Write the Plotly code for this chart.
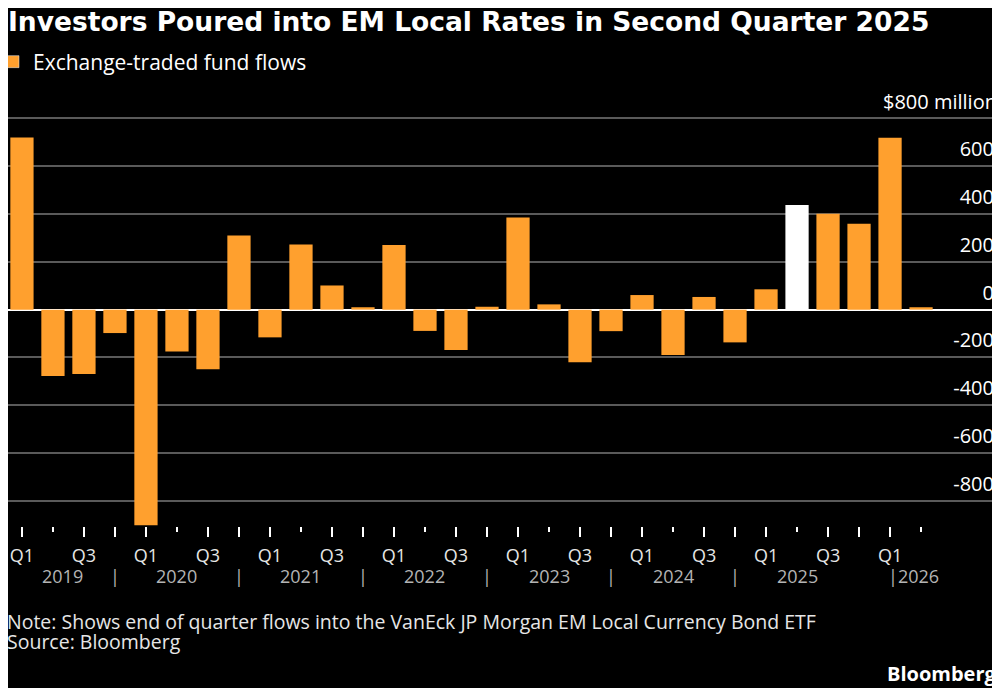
import plotly.graph_objects as go

# quarterly ETF flows, $ million (2019 Q1 .. 2026 Q2)
years = [2019, 2020, 2021, 2022, 2023, 2024, 2025, 2026]
quarters = ["Q1", "Q2", "Q3", "Q4"]
flows = [
    720, -278, -269, -98,      # 2019
    -902, -175, -249, 310,     # 2020
    -116, 272, 101, 10,        # 2021
    270, -89, -169, 12,        # 2022
    385, 22, -220, -90,        # 2023
    61, -190, 53, -137,        # 2024
    85, 438, 401, 359,         # 2025
    719, 10,                   # 2026
]
highlight = (2025, "Q2")
y_ticks = [-800, -600, -400, -200, 0, 200, 400, 600, 800]
y_unit = "$800 million"

ORANGE = "#FFA02E"
GRID = "#5a5a5a"
FONT = "Open Sans"
W, H = 992, 680   # page body adds an 8px margin

labels = []
for yr in years:
    for q in quarters:
        if len(labels) < len(flows):
            labels.append((yr, q))
idx = list(range(len(flows)))
colors = ["white" if lab == highlight else ORANGE for lab in labels]

fig = go.Figure()
fig.add_trace(go.Bar(
    x=idx, y=flows, name="Exchange-traded fund flows",
    marker=dict(color=colors, line=dict(width=0)),
    showlegend=False,
))
# legend entry
fig.add_trace(go.Bar(
    x=[None], y=[None], name="Exchange-traded fund flows",
    marker=dict(color=ORANGE), showlegend=True,
))

major = [i for i, (_, q) in enumerate(labels) if q != "Q2"]
minor = [i for i, (_, q) in enumerate(labels) if q == "Q2"]
major_text = [labels[i][1] if labels[i][1] in ("Q1", "Q3") else "" for i in major]

fig.update_xaxes(
    range=[-0.45, 31.45],
    tickmode="array", tickvals=major, ticktext=major_text,
    ticks="outside", ticklen=10, tickwidth=1.5, tickcolor="white",
    ticklabelstandoff=3,
    minor=dict(tickmode="array", tickvals=minor, ticks="outside",
               ticklen=5, tickwidth=1.5, tickcolor="white", showgrid=False),
    showgrid=False, zeroline=False, showline=False,
    tickfont=dict(family=FONT, size=18, color="#e6e6e6"),
)
# top label is drawn as an annotation so the wide text doesn't hide x ticks
fig.update_yaxes(
    range=[-905, 950], side="right",
    tickmode="array", tickvals=y_ticks,
    ticktext=["" if v == y_ticks[-1] else str(v) for v in y_ticks],
    ticklabelposition="inside", ticklabelshift=-17, ticks="",
    showgrid=True, gridcolor=GRID, gridwidth=1.5,
    zeroline=True, zerolinecolor="white", zerolinewidth=2,
    tickfont=dict(family=FONT, size=20, color="white"),
)

# year row under the quarter labels
ann = []
for k, yr in enumerate(years):
    ids = [i for i, (y, _) in enumerate(labels) if y == yr]
    if len(ids) == 4:
        centre = ids[0] + 1 if k > 0 else ids[0] + 1.3
        ann.append(dict(x=centre, text=str(yr), xanchor="center"))
        nxt = years[k + 1] if k + 1 < len(years) else None
        n_next = sum(1 for y, _ in labels if y == nxt)
        if nxt is not None and n_next == 4:
            ann.append(dict(x=ids[-1], text="|", xanchor="center"))
    else:
        ann.append(dict(x=ids[0] - 0.12, text="|" + str(yr), xanchor="left"))
for a in ann:
    a.update(xref="x", yref="paper", y=0, yshift=-50, yanchor="middle",
             showarrow=False, font=dict(family=FONT, size=18, color="#b4b4b4"))

ann += [
    dict(x=1, y=y_ticks[-1], xref="paper", yref="y", xanchor="right", yanchor="middle",
         yshift=17, xshift=2, showarrow=False, text=y_unit,
         font=dict(family=FONT, size=20, color="white")),
    dict(x=0, y=0, xref="paper", yref="paper", xanchor="left", yanchor="middle",
         yshift=-95, showarrow=False, xshift=-3,
         text="Note: Shows end of quarter flows into the VanEck JP Morgan EM Local Currency Bond ETF",
         font=dict(family=FONT, size=19.5, color="#e6e6e6")),
    dict(x=0, y=0, xref="paper", yref="paper", xanchor="left", yanchor="middle",
         yshift=-115, showarrow=False, xshift=-3, text="Source: Bloomberg",
         font=dict(family=FONT, size=19.5, color="#e6e6e6")),
    dict(x=1, y=0, xref="paper", yref="paper", xanchor="right", yanchor="middle",
         yshift=-147, showarrow=False, xshift=2, text="<b>Bloomberg</b>",
         font=dict(family=FONT, size=20, color="white")),
]

fig.update_layout(
    width=W, height=H,
    margin=dict(l=0, r=3, t=72, b=162),
    paper_bgcolor="black", plot_bgcolor="black",
    bargap=0.25,
    title=dict(text="<b>Investors Poured into EM Local Rates in Second Quarter 2025</b>",
               x=0, xanchor="left", xref="container", y=1 - 14 / H, yanchor="middle",
               font=dict(family="DejaVu Sans", size=26.5, color="white")),
    legend=dict(x=0, xref="container", y=1 - 54 / H, yref="container",
                xanchor="left", yanchor="middle", indentation=-15,
                orientation="h", bgcolor="rgba(0,0,0,0)",
                font=dict(family=FONT, size=21, color="white")),
    annotations=ann,
    font=dict(family=FONT, color="white"),
)

fig.write_html("out.html")
